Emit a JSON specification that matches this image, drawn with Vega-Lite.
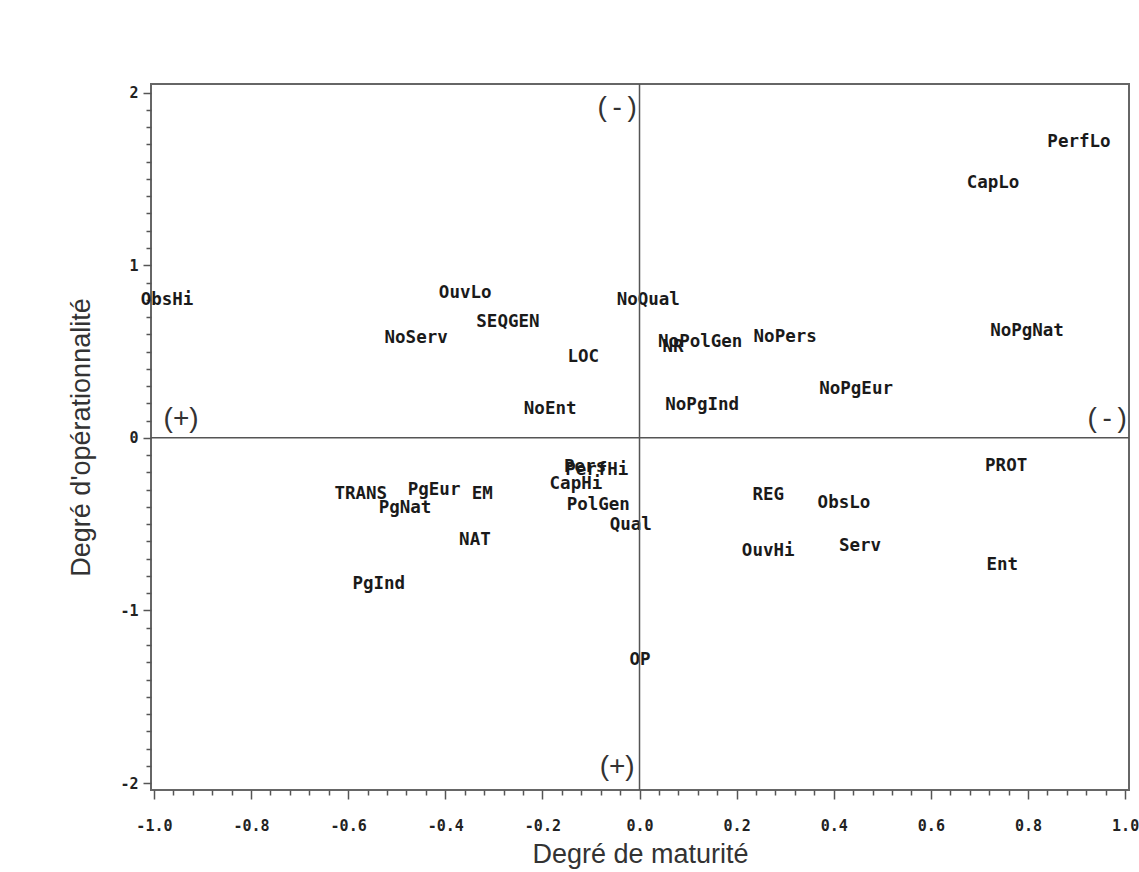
{
  "$schema": "https://vega.github.io/schema/vega-lite/v6.json",
  "width": 978,
  "height": 706,
  "autosize": {"type": "none"},
  "padding": {"left": 151, "top": 84, "right": 10, "bottom": 82},
  "background": "white",
  "config": {
    "view": {"stroke": "#666", "strokeWidth": 2},
    "axis": {"domain": false, "grid": false}
  },
  "layer": [
    {
      "data": {
        "values": [
          {"label": "ObsHi", "x": -0.973, "y": 0.800},
          {"label": "OuvLo", "x": -0.359, "y": 0.841},
          {"label": "SEQGEN", "x": -0.271, "y": 0.672},
          {"label": "NoServ", "x": -0.460, "y": 0.580},
          {"label": "LOC", "x": -0.116, "y": 0.470},
          {"label": "NoEnt", "x": -0.184, "y": 0.168},
          {"label": "NoQual", "x": 0.018, "y": 0.800},
          {"label": "NoPolGen", "x": 0.125, "y": 0.557},
          {"label": "NR", "x": 0.069, "y": 0.528},
          {"label": "NoPers", "x": 0.300, "y": 0.586},
          {"label": "NoPgInd", "x": 0.129, "y": 0.191},
          {"label": "NoPgEur", "x": 0.446, "y": 0.284},
          {"label": "NoPgNat", "x": 0.798, "y": 0.620},
          {"label": "CapLo", "x": 0.728, "y": 1.478},
          {"label": "PerfLo", "x": 0.905, "y": 1.716},
          {"label": "PROT", "x": 0.755, "y": -0.162},
          {"label": "Ent", "x": 0.747, "y": -0.736},
          {"label": "REG", "x": 0.265, "y": -0.330},
          {"label": "ObsLo", "x": 0.421, "y": -0.377},
          {"label": "Serv", "x": 0.454, "y": -0.626},
          {"label": "OuvHi", "x": 0.265, "y": -0.655},
          {"label": "Qual", "x": -0.018, "y": -0.504},
          {"label": "PolGen", "x": -0.085, "y": -0.388},
          {"label": "CapHi", "x": -0.131, "y": -0.267},
          {"label": "PerfHi", "x": -0.088, "y": -0.186},
          {"label": "Pers", "x": -0.112, "y": -0.168},
          {"label": "TRANS", "x": -0.574, "y": -0.325},
          {"label": "PgEur", "x": -0.423, "y": -0.301},
          {"label": "PgNat", "x": -0.483, "y": -0.406},
          {"label": "EM", "x": -0.324, "y": -0.325},
          {"label": "NAT", "x": -0.339, "y": -0.591},
          {"label": "PgInd", "x": -0.537, "y": -0.846},
          {"label": "OP", "x": 0.001, "y": -1.287}
        ]
      },
      "mark": {"type": "text", "font": "DejaVu Sans Mono", "fontWeight": "bold", "fontSize": 17.5, "color": "#1a1a1a", "align": "center", "baseline": "middle"},
      "encoding": {
        "x": {
          "field": "x", "type": "quantitative",
          "scale": {"domain": [-1.006, 1.008], "nice": false, "zero": false},
          "axis": {
            "title": "Degré de maturité",
            "titleFont": "Liberation Sans", "titleFontSize": 27, "titleFontWeight": "normal", "titleColor": "#333", "titlePadding": 8,
            "values": [-1,-0.96,-0.92,-0.88,-0.84,-0.8,-0.76,-0.72,-0.68,-0.64,-0.6,-0.56,-0.52,-0.48,-0.44,-0.4,-0.36,-0.32,-0.28,-0.24,-0.2,-0.16,-0.12,-0.08,-0.04,0,0.04,0.08,0.12,0.16,0.2,0.24,0.28,0.32,0.36,0.4,0.44,0.48,0.52,0.56,0.6,0.64,0.68,0.72,0.76,0.8,0.84,0.88,0.92,0.96,1],
            "tickCount": 500,
            "labelExpr": "abs(datum.value*5 - round(datum.value*5)) < 0.001 ? replace(format(datum.value, '.1f'), '\u2212', '-') : ''",
            "tickSize": {"condition": {"test": "abs(datum.value*5 - round(datum.value*5)) < 0.001", "value": 9}, "value": 5},
            "tickColor": "#555", "tickWidth": 1.5,
            "labelFont": "DejaVu Sans Mono", "labelFontWeight": "bold", "labelFontSize": 15, "labelColor": "#222",
            "labelPadding": 19, "labelOverlap": false, "labelFlush": false, "labelBound": false
          }
        },
        "y": {
          "field": "y", "type": "quantitative",
          "scale": {"domain": [-2.04, 2.05], "nice": false, "zero": false},
          "axis": {
            "title": "Degré d'opérationnalité",
            "titleFont": "Liberation Sans", "titleFontSize": 27, "titleFontWeight": "normal", "titleColor": "#333", "titlePadding": 24,
            "values": [-2,-1.9,-1.8,-1.7,-1.6,-1.5,-1.4,-1.3,-1.2,-1.1,-1,-0.9,-0.8,-0.7,-0.6,-0.5,-0.4,-0.3,-0.2,-0.1,0,0.1,0.2,0.3,0.4,0.5,0.6,0.7,0.8,0.9,1,1.1,1.2,1.3,1.4,1.5,1.6,1.7,1.8,1.9,2],
            "tickCount": 500,
            "labelExpr": "abs(datum.value - round(datum.value)) < 0.001 ? replace(format(datum.value, 'd'), '\u2212', '-') : ''",
            "tickSize": {"condition": {"test": "abs(datum.value - round(datum.value)) < 0.001", "value": 8}, "value": 5},
            "tickColor": "#555", "tickWidth": 1.5,
            "labelFont": "DejaVu Sans Mono", "labelFontWeight": "bold", "labelFontSize": 15, "labelColor": "#222",
            "labelPadding": 5, "labelOverlap": false, "labelFlush": false, "labelBound": false
          }
        },
        "text": {"field": "label"}
      }
    },
    {
      "data": {"values": [{}]},
      "mark": {"type": "rule", "color": "#555", "strokeWidth": 1.5},
      "encoding": {"x": {"datum": 0}}
    },
    {
      "data": {"values": [{}]},
      "mark": {"type": "rule", "color": "#555", "strokeWidth": 1.5},
      "encoding": {"y": {"datum": 0}}
    },
    {
      "data": {
        "values": [
          {"t": "(\u2009-\u2009)", "x": -0.046, "y": 1.913},
          {"t": "(+)", "x": -0.944, "y": 0.110},
          {"t": "(\u2009-\u2009)", "x": 0.963, "y": 0.110},
          {"t": "(+)", "x": -0.046, "y": -1.907}
        ]
      },
      "mark": {"type": "text", "font": "Liberation Sans", "fontSize": 28, "color": "#333", "align": "center", "baseline": "middle"},
      "encoding": {
        "x": {"field": "x", "type": "quantitative"},
        "y": {"field": "y", "type": "quantitative"},
        "text": {"field": "t"}
      }
    }
  ]
}
